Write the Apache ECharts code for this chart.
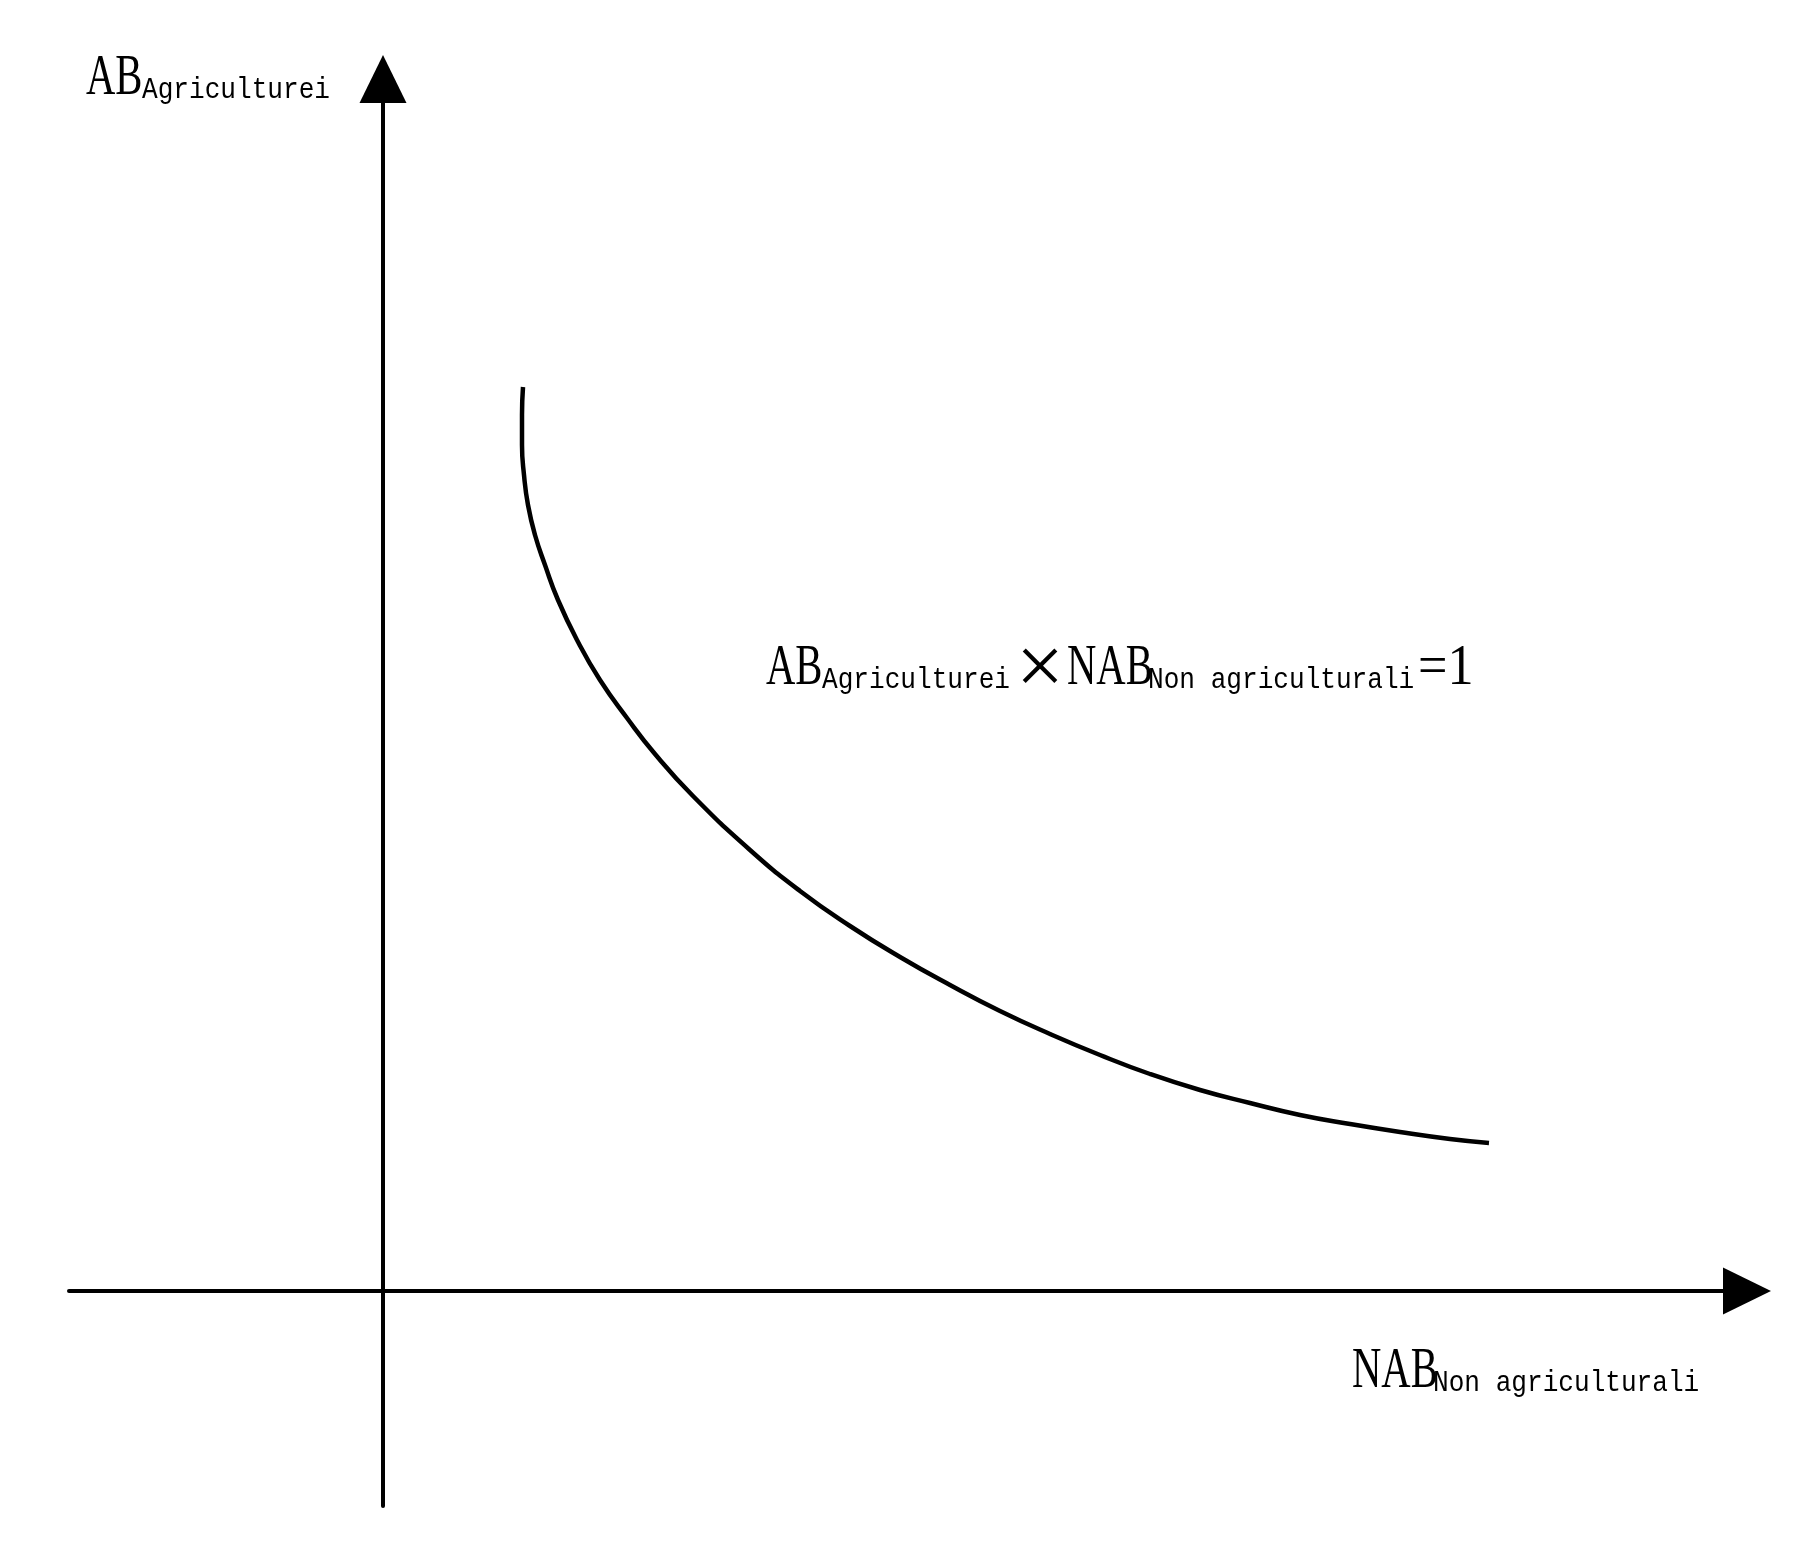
<!DOCTYPE html>
<html>
<head>
<meta charset="utf-8">
<script src="https://cdn.jsdelivr.net/npm/echarts@6/dist/echarts.min.js"></script>
<style>
  html, body { margin: 0; padding: 0; background: #fff; }
  #chart { width: 1814px; height: 1546px; }
</style>
</head>
<body>
<div id="chart"></div>
<script>
// curve AB x NAB = 1 (axis origin = 0,0)
const curveX = [1.40, 1.39, 1.39, 1.41, 1.45, 1.52, 1.62, 1.75, 1.94, 2.17, 2.44, 2.72, 3.10, 3.67, 4.17, 4.67, 5.17, 5.67, 6.17, 6.67, 7.17, 7.67, 8.17, 8.67, 9.17, 9.67, 10.17, 10.67, 11.06]
const curveY = [9.04, 8.76, 8.46, 8.16, 7.86, 7.56, 7.26, 6.91, 6.51, 6.11, 5.73, 5.37, 4.95, 4.41, 4.00, 3.65, 3.34, 3.06, 2.80, 2.57, 2.36, 2.17, 2.01, 1.88, 1.76, 1.67, 1.59, 1.52, 1.48]
const xRange = [-3.14, 13.64]
const yRange = [-2.15, 12.12]
const yName = ['AB', 'Agriculturei']
const xName = ['NAB', 'Non agriculturali']
const curveLabel = ['AB', 'Agriculturei', '×', 'NAB', 'Non agriculturali', '=1']

// main letters: condensed serif, subscripts: monospace; y is the text baseline
const fonts = {
  m: { fontFamily: 'Liberation Serif', fontSize: 58, scaleX: 0.7, mid: 0.3375 },
  e: { fontFamily: 'Liberation Serif', fontSize: 58, scaleX: 0.9, mid: 0.3375 },
  s: { fontFamily: 'Liberation Mono', fontSize: 29, scaleX: 0.9, mid: 0.2665 },
}
const piece = (x, base, text, kind) => {
  const f = fonts[kind]
  return {
    type: 'text', x, y: base - f.mid * f.fontSize, scaleX: f.scaleX, silent: true,
    style: { text, fontFamily: f.fontFamily, fontSize: f.fontSize, lineHeight: f.fontSize, fill: '#000', align: 'left', verticalAlign: 'middle' },
  }
}

const axisLine = { show: true, onZero: true, symbol: ['none', 'triangle'], symbolSize: [47, 48], lineStyle: { color: '#000', width: 4 } }
const hidden = { axisTick: { show: false }, axisLabel: { show: false }, splitLine: { show: false } }

const chart = echarts.init(document.getElementById('chart'), null, { renderer: 'canvas' })
chart.setOption({
  backgroundColor: '#fff', animation: false,
  grid: { left: 69, right: 67, top: 79, bottom: 40 },
  xAxis: { type: 'value', min: xRange[0], max: xRange[1], axisLine, ...hidden },
  yAxis: { type: 'value', min: yRange[0], max: yRange[1], axisLine, ...hidden },
  series: [{
    type: 'line', data: curveX.map((x, i) => [x, curveY[i]]), smooth: 0.5, showSymbol: false,
    lineStyle: { color: '#000', width: 4.5 },
  }],
  graphic: [
    piece(86, 98, yName[0], 'm'), piece(142, 98, yName[1], 's'),
    piece(1352, 1391, xName[0], 'm'), piece(1433, 1391, xName[1], 's'),
    piece(766, 688, curveLabel[0], 'm'), piece(822, 688, curveLabel[1], 's'),
    { type: 'text', x: 1040, y: 672, silent: true,
      style: { text: curveLabel[2], fontFamily: 'Liberation Serif', fontSize: 85, lineHeight: 85, fill: '#000', align: 'center', verticalAlign: 'middle' } },
    piece(1067, 688, curveLabel[3], 'm'), piece(1148, 688, curveLabel[4], 's'), piece(1418, 688, curveLabel[5], 'e'),
  ],
})
</script>
</body>
</html>
